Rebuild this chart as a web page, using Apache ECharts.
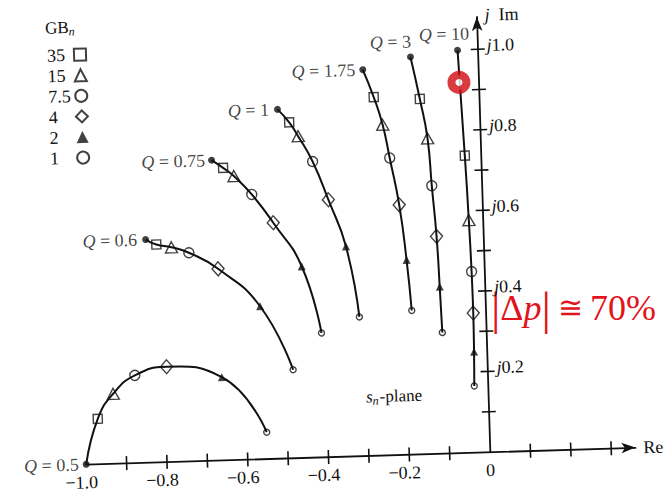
<!DOCTYPE html>
<html>
<head>
<meta charset="utf-8">
<script src="https://cdn.jsdelivr.net/npm/echarts@6/dist/echarts.min.js"></script>
<style>
  html, body { margin: 0; padding: 0; background: #fff; overflow: hidden; }
  #chart {
    position: absolute; left: 0; top: 0; width: 666px; height: 494px;
    transform: rotate(-1.75deg); transform-origin: 333px 247px;
  }
</style>
</head>
<body>
<div id="chart"></div>
<script>
// Pole loci of second-order active sections in the s_n-plane:
// each curve starts at the ideal pole of a given Q and moves as the
// normalised gain-bandwidth GB_n of the amplifier decreases.
const qValues = ['0.5', '0.6', '0.75', '1', '1.75', '3', '10'];
const gbValues = ['35', '15', '7.5', '4', '2', '1'];

// [Re, Im] per Q, in the order of qValues
const idealPoles = [[-1.0, 0.0], [-0.836, 0.553], [-0.667, 0.745], [-0.5, 0.866], [-0.286, 0.958], [-0.167, 0.986], [-0.05, 0.999]];
const poles35  = [[-0.968, 0.112], [-0.810, 0.540], [-0.639, 0.725], [-0.472, 0.833], [-0.261, 0.889], [-0.147, 0.881], [-0.040, 0.737]];
const poles15  = [[-0.928, 0.173], [-0.773, 0.532], [-0.613, 0.704], [-0.451, 0.798], [-0.241, 0.820], [-0.131, 0.783], [-0.035, 0.577]];
const poles7_5 = [[-0.873, 0.217], [-0.730, 0.517], [-0.570, 0.657], [-0.417, 0.734], [-0.226, 0.737], [-0.124, 0.665], [-0.032, 0.449]];
const poles4   = [[-0.794, 0.236], [-0.659, 0.475], [-0.519, 0.585], [-0.381, 0.638], [-0.206, 0.620], [-0.116, 0.539], [-0.031, 0.346]];
const poles2   = [[-0.658, 0.206], [-0.558, 0.379], [-0.452, 0.475], [-0.341, 0.521], [-0.192, 0.483], [-0.112, 0.414], [-0.032, 0.250]];
const poles1   = [[-0.551, 0.066], [-0.481, 0.219], [-0.408, 0.308], [-0.313, 0.345], [-0.183, 0.357], [-0.109, 0.300], [-0.034, 0.165]];
const polesByGB = [poles35, poles15, poles7_5, poles4, poles2, poles1];

// highlighted pole on the Q = 10 locus
const highlightedPole = [[-0.049, 0.919]];
const deviationText = '70%';

// axis ticks and labels
const xTicks = [-0.9, -0.8, -0.7, -0.6, -0.5, -0.4, -0.3, -0.2, -0.1, 0.1, 0.2, 0.3];
const yTicks = [0.1, 0.2, 0.3, 0.4, 0.5, 0.6, 0.7, 0.8, 0.9, 1.0];
const xLabelValues = [-1.0, -0.8, -0.6, -0.4, -0.2, 0];
const xLabelTexts = ['\u22121.0', '\u22120.8', '\u22120.6', '\u22120.4', '\u22120.2', '0'];
const yLabelValues = [0.2, 0.4, 0.6, 0.8, 1.0];
const yLabelTexts = ['0.2', '0.4', '0.6', '0.8', '1.0'];

const ink = '#111';
const red = '#e0141a';
const serif = "'Liberation Serif', 'Times New Roman', serif";

// plot area: 404 px per unit on both axes
const gridLeft = 79.7, gridTop = 21.5, gridBottom = 37.3;
const xMin = -1.0, xMax = 0.36, yMin = 0, yMax = 1.08;
const pxPerUnit = 404;

const markerStyles = [
  { symbol: 'rect', size: 9, filled: false },
  { symbol: 'triangle', size: [12, 11], filled: false },
  { symbol: 'circle', size: 10, filled: false },
  { symbol: 'diamond', size: [12, 14], filled: false },
  { symbol: 'triangle', size: [8, 8], filled: true },
  { symbol: 'circle', size: 6, filled: false }
];

// placement of the "Q = ..." labels beside the ideal poles
const qLabelPlacement = [
  { position: 'left', distance: 4 },
  { position: 'left', distance: 5 },
  { position: 'left', distance: 3 },
  { position: 'left', distance: 5 },
  { position: 'left', distance: 4 },
  { position: 'top', align: 'right', distance: 3, offset: [1, 0] },
  { position: 'top', align: 'right', distance: 4, offset: [12, 0] }
];

function findLabel(values, texts, v) {
  const k = values.findIndex(t => Math.abs(t - v) < 1e-6);
  return k < 0 ? null : texts[k];
}

function tickSeries(values, alongX) {
  return {
    type: 'custom', silent: true, clip: false, z: 3,
    data: values.map(v => alongX ? [v, 0] : [0, v]),
    renderItem(params, api) {
      const p = api.coord([api.value(0), api.value(1)]);
      const h = 7;
      return {
        type: 'line',
        shape: alongX ? { x1: p[0], y1: p[1] - h, x2: p[0], y2: p[1] + h }
                      : { x1: p[0] - h, y1: p[1], x2: p[0] + h, y2: p[1] },
        style: { stroke: ink, lineWidth: 1.6 }
      };
    }
  };
}

const series = [];

// one locus per Q: ideal pole, then GB_n = 35 ... 1
qValues.forEach((q, i) => {
  series.push({
    type: 'line', name: 'Q = ' + q, smooth: 0.5, showSymbol: false, silent: true, z: 2,
    lineStyle: { color: ink, width: 2 },
    data: [idealPoles[i]].concat(polesByGB.map(arr => arr[i]))
  });
});

// markers for each GB_n
gbValues.forEach((gb, k) => {
  const st = markerStyles[k];
  series.push({
    type: 'scatter', name: gb, symbol: st.symbol, symbolSize: st.size, z: 4,
    itemStyle: {
      color: st.filled ? ink : 'rgba(255,255,255,0)',
      borderColor: ink, borderWidth: st.filled ? 0 : 1.4
    },
    data: polesByGB[k]
  });
});

// ideal poles with their Q labels
series.push({
  type: 'scatter', name: 'ideal', symbol: 'circle', symbolSize: 7, z: 5,
  itemStyle: { color: ink },
  data: idealPoles.map((p, i) => ({
    value: p,
    label: Object.assign({
      show: true,
      formatter: '{q|Q} = ' + qValues[i],
      color: ink, fontFamily: serif, fontSize: 18,
      rich: { q: { fontStyle: 'italic', fontFamily: serif, fontSize: 18, color: ink } }
    }, qLabelPlacement[i])
  }))
});

// highlighted pole
series.push({
  type: 'scatter', name: 'highlight', symbol: 'circle', symbolSize: 15, z: 6,
  itemStyle: { color: '#fff', borderColor: '#d00a10', borderWidth: 8 },
  data: highlightedPole
});

series.push(tickSeries(xTicks, true));
series.push(tickSeries(yTicks, false));

// the annotation stays level while the whole figure is tilted
const counterTilt = -1.75 * Math.PI / 180;

const option = {
  animation: false,
  backgroundColor: '#fff',
  textStyle: { fontFamily: serif, color: ink },
  grid: {
    left: gridLeft, top: gridTop, bottom: gridBottom,
    right: 666 - gridLeft - (xMax - xMin) * pxPerUnit,
    containLabel: false, outerBoundsMode: 'none'
  },
  xAxis: {
    type: 'value', min: xMin, max: xMax, interval: 0.2,
    splitLine: { show: false },
    axisTick: { show: false },
    axisLine: { show: true, lineStyle: { color: ink, width: 1.8 }, symbol: ['none', 'arrow'], symbolSize: [8, 14] },
    axisLabel: {
      show: true, margin: 9, color: ink, fontFamily: serif, fontSize: 18,
      showMaxLabel: false,
      formatter: v => {
        const t = findLabel(xLabelValues, xLabelTexts, v);
        if (t === null) return '';
        return v < 0 ? '{m|' + t + '}' : t;
      },
      rich: { m: { padding: [0, 10, 0, 0], fontFamily: serif, fontSize: 18, color: ink } }
    },
    name: 'Re', nameLocation: 'end', nameGap: 8,
    nameTextStyle: { fontFamily: serif, fontSize: 18, color: ink, align: 'left', verticalAlign: 'middle' }
  },
  yAxis: {
    type: 'value', min: yMin, max: yMax, interval: 0.2,
    position: 'left',
    // the imaginary axis sits at Re = 0
    offset: xMin * pxPerUnit,
    splitLine: { show: false },
    axisTick: { show: false },
    axisLine: { show: true, onZero: false, lineStyle: { color: ink, width: 1.8 }, symbol: ['none', 'arrow'], symbolSize: [8, 14] },
    axisLabel: {
      show: true, inside: true, margin: 9, color: ink, fontFamily: serif, fontSize: 18,
      padding: [0, 0, 8, 0],
      showMaxLabel: false,
      formatter: v => {
        const t = findLabel(yLabelValues, yLabelTexts, v);
        return t === null ? '' : '{j|j}' + t;
      },
      rich: { j: { fontStyle: 'italic', fontFamily: serif, fontSize: 18, color: ink } }
    },
    name: '{j|j}  Im', nameLocation: 'end', nameGap: 2,
    nameTextStyle: {
      fontFamily: serif, fontSize: 18, color: ink, align: 'left', verticalAlign: 'middle',
      padding: [0, 0, 0, 8],
      rich: { j: { fontStyle: 'italic', fontFamily: serif, fontSize: 18, color: ink } }
    }
  },
  legend: {
    data: gbValues, orient: 'vertical', align: 'right',
    left: 53, top: 38, padding: 0, itemGap: 2.6,
    itemWidth: 12, itemHeight: 12, selectedMode: false,
    formatter: name => '{t|' + name + '}',
    textStyle: {
      fontFamily: serif, fontSize: 18, color: ink, lineHeight: 14,
      rich: { t: { width: 22, height: 14, align: 'left', fontFamily: serif, fontSize: 18, lineHeight: 14, color: ink } }
    }
  },
  graphic: [
    {
      type: 'text', left: 51.8, top: 11,
      style: {
        text: 'GB{n|n}', fill: ink, font: '17px ' + serif,
        rich: { n: { fontSize: 12, fontStyle: 'italic', fontFamily: serif, padding: [8, 0, 0, 0], fill: ink } }
      }
    },
    {
      type: 'text', x: 361.4, y: 397.9,
      style: {
        text: '{i|s}{n|n}-plane', fill: ink, font: '17px ' + serif, verticalAlign: 'middle',
        rich: {
          i: { fontStyle: 'italic', fontFamily: serif, fontSize: 17, fill: ink },
          n: { fontStyle: 'italic', fontFamily: serif, fontSize: 12, padding: [8, 1, 0, 0], fill: ink }
        }
      }
    },
    {
      type: 'text', x: 489, y: 312.5, rotation: counterTilt,
      style: {
        text: '{b||}\u0394{i|p}{b||}{s|\u2245}' + deviationText,
        fill: red, font: '36px ' + serif, verticalAlign: 'middle', align: 'left',
        rich: {
          b: { fontSize: 47, fontFamily: serif, fill: red },
          i: { fontStyle: 'italic', fontSize: 36, fontFamily: serif, fill: red },
          s: { fontSize: 30, fontFamily: serif, fill: red, padding: [0, 7, 0, 7] }
        }
      }
    }
  ],
  series: series
};

const chart = echarts.init(document.getElementById('chart'), null, { renderer: 'svg' });
chart.setOption(option);
</script>
</body>
</html>
